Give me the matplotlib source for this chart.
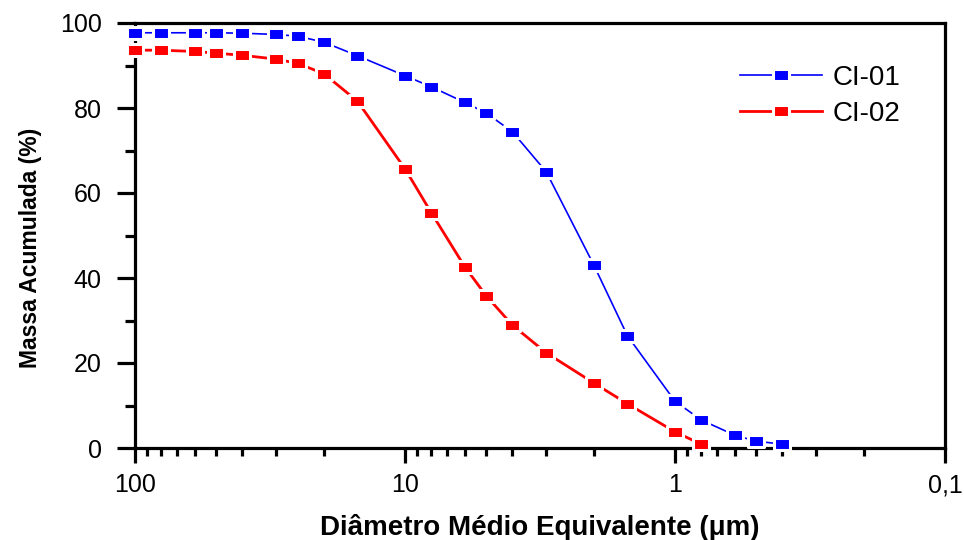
import matplotlib
matplotlib.use("Agg")
import matplotlib.pyplot as plt
from matplotlib.path import Path
from matplotlib.ticker import FixedLocator, NullFormatter, FixedFormatter

# Data
diam_ci01 = [100, 80, 60, 50, 40, 30, 25, 20, 15, 10, 8, 6, 5, 4, 3, 2, 1.5, 1, 0.8, 0.6, 0.5, 0.4]
mass_ci01 = [97.7, 97.7, 97.7, 97.7, 97.6, 97.3, 96.9, 95.5, 92.3, 87.6, 85.0, 81.3, 78.8, 74.4, 65.0,
             43.1, 26.4, 11.0, 6.6, 3.0, 1.6, 0.9]
diam_ci02 = [100, 80, 60, 50, 40, 30, 25, 20, 15, 10, 8, 6, 5, 4, 3, 2, 1.5, 1, 0.8]
mass_ci02 = [93.6, 93.6, 93.3, 92.9, 92.4, 91.5, 90.5, 88.1, 81.6, 65.7, 55.4, 42.6, 35.8, 28.9, 22.4,
             15.3, 10.4, 3.8, 0.9]
series_names = ["CI-01", "CI-02"]
x_major = [100, 10, 1, 0.1]
x_major_labels = ["100", "10", "1", "0,1"]
y_major = [0, 20, 40, 60, 80, 100]

plt.rcParams['font.family'] = ['Liberation Sans', 'DejaVu Sans']

fig = plt.figure(figsize=(9.64, 5.4), dpi=100)
ax = fig.add_axes([135/964, 1-448/540, (945-135)/964, (448-23)/540])

rect = Path([(-1.3, -1), (1.3, -1), (1.3, 1), (-1.3, 1), (-1.3, -1)],
            [Path.MOVETO, Path.LINETO, Path.LINETO, Path.LINETO, Path.CLOSEPOLY])

ax.plot(diam_ci01, mass_ci01, color='#0000ff', lw=1.2, marker=rect, ms=11.5,
        mfc='#0000ff', mec='white', mew=2.2, label=series_names[0], clip_on=False, zorder=3)
ax.plot(diam_ci02, mass_ci02, color='#ff0000', lw=2.0, marker=rect, ms=11.5,
        mfc='#ff0000', mec='white', mew=2.2, label=series_names[1], clip_on=False, zorder=3)

ax.set_xscale('log')
ax.set_xlim(100, 0.1)
ax.set_ylim(0, 100)

ax.xaxis.set_major_locator(FixedLocator(x_major))
ax.xaxis.set_major_formatter(FixedFormatter(x_major_labels))
minors = [m * 10.0**e for e in (-1, 0, 1) for m in range(2, 10)]
ax.xaxis.set_minor_locator(FixedLocator(minors))
ax.xaxis.set_minor_formatter(NullFormatter())
ax.yaxis.set_major_locator(FixedLocator(y_major))
ax.yaxis.set_minor_locator(FixedLocator([10, 30, 50, 70, 90]))

for s in ax.spines.values():
    s.set_linewidth(2.3)

ax.tick_params(axis='x', which='major', direction='out', length=11, width=2.3, labelsize=18, pad=7)
ax.tick_params(axis='x', which='minor', direction='out', length=6, width=2.3)
ax.tick_params(axis='y', which='major', direction='out', length=13, width=2.3, labelsize=18, pad=11)
ax.tick_params(axis='y', which='minor', direction='out', length=7, width=2.3)

ax.set_xlabel("Diâmetro Médio Equivalente (μm)", fontsize=20, fontweight='bold', labelpad=12)
ax.set_ylabel("Massa Acumulada (%)", fontsize=16.5, fontweight='bold')
ax.yaxis.set_label_coords(-0.115, 0.47)

leg = ax.legend(loc='upper left', bbox_to_anchor=(605/810, 1-42/425), frameon=False,
                fontsize=20, handlelength=2.95, handletextpad=0.4, labelspacing=0.35,
                borderaxespad=0, borderpad=0)

fig.savefig("out.png", dpi=100)
